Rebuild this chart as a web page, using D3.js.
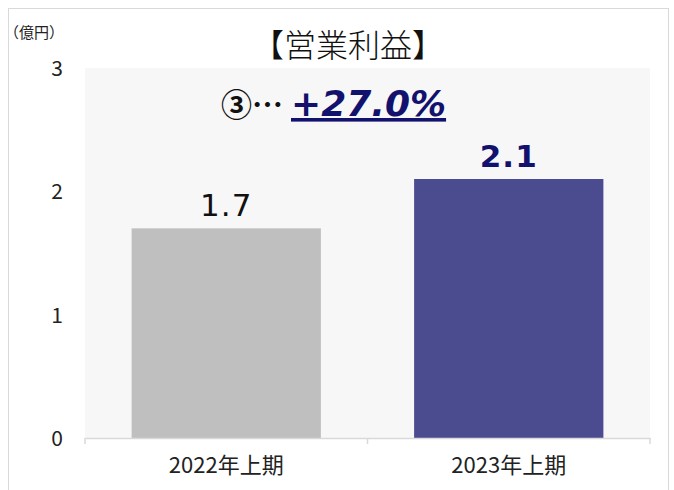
<!DOCTYPE html>
<html>
<head>
<meta charset="utf-8">
<script src="https://d3js.org/d3.v7.min.js"></script>
<style>
  body { margin: 0; background: #fff; }
  text { font-family: "Noto Sans CJK JP", "DejaVu Sans", sans-serif; }
</style>
</head>
<body>
<div id="chart"></div>
<script>
// data
const categories = ["2022年上期", "2023年上期"];
const values = [1.7, 2.1];
const labels = ["1.7", "2.1"];
const yTicks = [0, 1, 2, 3];

const W = 674, H = 490;
const plot = {left: 85, right: 650, top: 68, bottom: 438};

const svg = d3.select("#chart").append("svg")
  .attr("width", W).attr("height", H);

// outer frame
svg.append("rect")
  .attr("x", 8.5).attr("y", 8.5).attr("width", 660).attr("height", 500)
  .attr("fill", "#fff").attr("stroke", "#d9d9d9");

// plot background
svg.append("rect")
  .attr("x", plot.left).attr("y", plot.top)
  .attr("width", plot.right - plot.left).attr("height", plot.bottom - plot.top)
  .attr("fill", "#f7f7f7");

const x = d3.scaleBand().domain(categories).range([plot.left, plot.right]).padding(0);
const y = d3.scaleLinear().domain([0, 3]).range([plot.bottom, plot.top]);
const barW = x.bandwidth() * 0.67;
const colors = ["#bfbfbf", "#4b4b8f"];

svg.selectAll("rect.bar").data(values).enter().append("rect")
  .attr("class", "bar")
  .attr("x", (d, i) => x(categories[i]) + x.bandwidth() / 2 - barW / 2)
  .attr("y", d => y(d))
  .attr("width", barW)
  .attr("height", d => y(0) - y(d))
  .attr("fill", (d, i) => colors[i]);

// x axis
const xAxis = svg.append("g")
  .attr("transform", "translate(0," + plot.bottom + ")")
  .call(d3.axisBottom(x).tickSize(0).tickPadding(19));
xAxis.select(".domain").attr("stroke", "#d9d9d9").attr("stroke-width", 1.5);
xAxis.selectAll("text").attr("font-size", "22px").attr("fill", "#222")
  .style("font-family", "'Noto Sans CJK JP', sans-serif");
// category boundary ticks
const bounds = [plot.left, plot.left + x.step(), plot.right];
svg.selectAll("line.xt").data(bounds).enter().append("line")
  .attr("x1", d => d).attr("x2", d => d)
  .attr("y1", plot.bottom).attr("y2", plot.bottom + 6)
  .attr("stroke", "#d9d9d9").attr("stroke-width", 1.5);

// y axis labels
svg.selectAll("text.yt").data(yTicks).enter().append("text")
  .attr("class", "yt")
  .attr("x", 57).attr("y", d => y(d) + 8)
  .attr("text-anchor", "middle")
  .attr("font-size", "21px").attr("fill", "#222")
  .text(d => d);

// unit
svg.append("text").attr("x", 4).attr("y", 38)
  .attr("font-size", "15px").attr("fill", "#222").text("（億円）");

// title
svg.append("text").attr("x", 348).attr("y", 57)
  .attr("text-anchor", "middle").attr("font-size", "32px").attr("fill", "#111")
  .attr("font-weight", 300)
  .text("【営業利益】");

// data labels
svg.selectAll("text.dl").data(values).enter().append("text")
  .attr("class", "dl")
  .attr("x", (d, i) => x(categories[i]) + x.bandwidth() / 2)
  .attr("y", d => y(d) - 12)
  .attr("text-anchor", "middle")
  .attr("font-size", "31px")
  .attr("font-weight", (d, i) => i === 1 ? "bold" : "normal")
  .attr("fill", (d, i) => i === 1 ? "#12126e" : "#111")
  .style("font-family", "'DejaVu Sans', sans-serif")
  .style("letter-spacing", "1px")
  .text((d, i) => labels[i]);

// growth note
const note = svg.append("text").attr("x", 221).attr("y", 116);
note.append("tspan").attr("font-size", "31px").attr("font-weight", "bold").attr("fill", "#111")
  .style("font-family", "'Noto Sans CJK JP', sans-serif")
  .text("③⋯");
note.append("tspan").attr("dx", 8).attr("font-size", "36px").attr("font-weight", "bold")
  .attr("font-style", "italic").attr("fill", "#12126e")
  .style("font-family", "'DejaVu Sans', sans-serif")
  .attr("text-decoration", "underline")
  .text("+27.0%");
</script>
</body>
</html>
